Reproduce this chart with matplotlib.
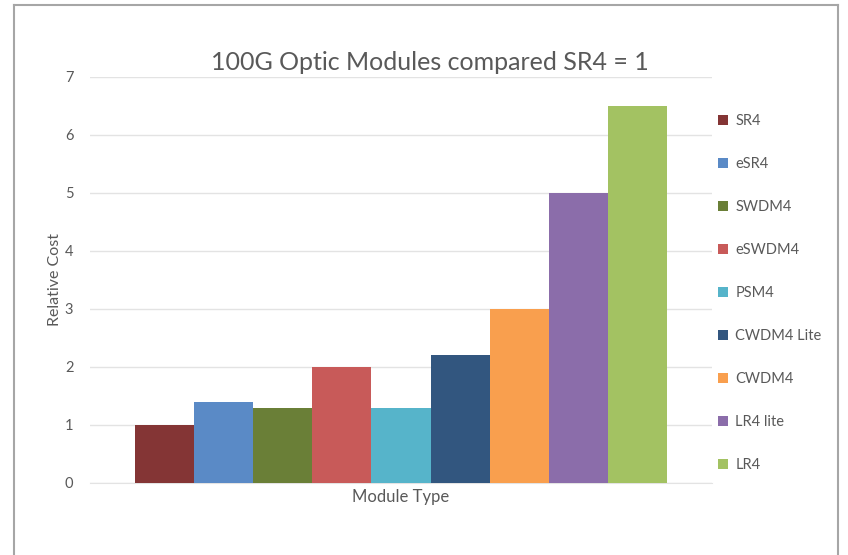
import numpy as np
import matplotlib.pyplot as plt
from matplotlib.lines import Line2D

modules = ['SR4', 'eSR4', 'SWDM4', 'eSWDM4', 'PSM4', 'CWDM4 Lite', 'CWDM4', 'LR4 lite', 'LR4']
cost = [1.0, 1.4, 1.3, 2.0, 1.3, 2.2, 3.0, 5.0, 6.5]
colors = ['#843535', '#5A8AC6', '#6A7F37', '#C85A59', '#56B4CA',
          '#32567F', '#F99F4E', '#8B6DAA', '#A3C262']
yticks = [0, 1, 2, 3, 4, 5, 6, 7]

plt.rcParams['font.family'] = ['Lato', 'DejaVu Sans']
txt = '#595959'

fig = plt.figure(figsize=(8.48, 5.55), dpi=100)
ax = fig.add_axes([90/848, 1-483/555, 622/848, 406/555])

x = np.arange(len(modules))
for i in range(len(modules)):
    ax.bar(x[i], cost[i], width=1.0, color=colors[i], label=modules[i], zorder=3)

ax.set_xlim(4 - 5.27, 4 + 5.27)
ax.set_ylim(0, 7)
ax.set_yticks(yticks)
ax.set_xticks([])
ax.grid(axis='y', color='#E3E3E3', linewidth=1, zorder=0)
for s in ['top', 'right', 'left']:
    ax.spines[s].set_visible(False)
ax.spines['bottom'].set_color('#E3E3E3')
ax.tick_params(axis='y', length=0, pad=12, labelsize=10.5, labelcolor=txt)

ax.set_ylabel('Relative Cost', fontsize=11.5, color=txt, labelpad=2)
ax.set_xlabel('Module Type', fontsize=12, color=txt, labelpad=4)
fig.text(430/848, 1-62/555, '100G Optic Modules compared SR4 = 1',
         ha='center', va='center', fontsize=18, color=txt)

fig.legend(loc='upper left', bbox_to_anchor=(712/848, 1-108/555), frameon=False,
           fontsize=10.5, labelcolor=txt, handlelength=0.7, handleheight=0.7,
           handletextpad=0.5, labelspacing=1.99, borderaxespad=0)

# outer frame
fc = '#A6A6A6'
fig.add_artist(Line2D([14/848, 838/848], [1-5/555, 1-5/555], color=fc, lw=1.5))
fig.add_artist(Line2D([14/848, 14/848], [1-5/555, 0], color=fc, lw=1.5))
fig.add_artist(Line2D([838/848, 838/848], [1-5/555, 0], color=fc, lw=1.5))

fig.savefig('out.png', dpi=100)
